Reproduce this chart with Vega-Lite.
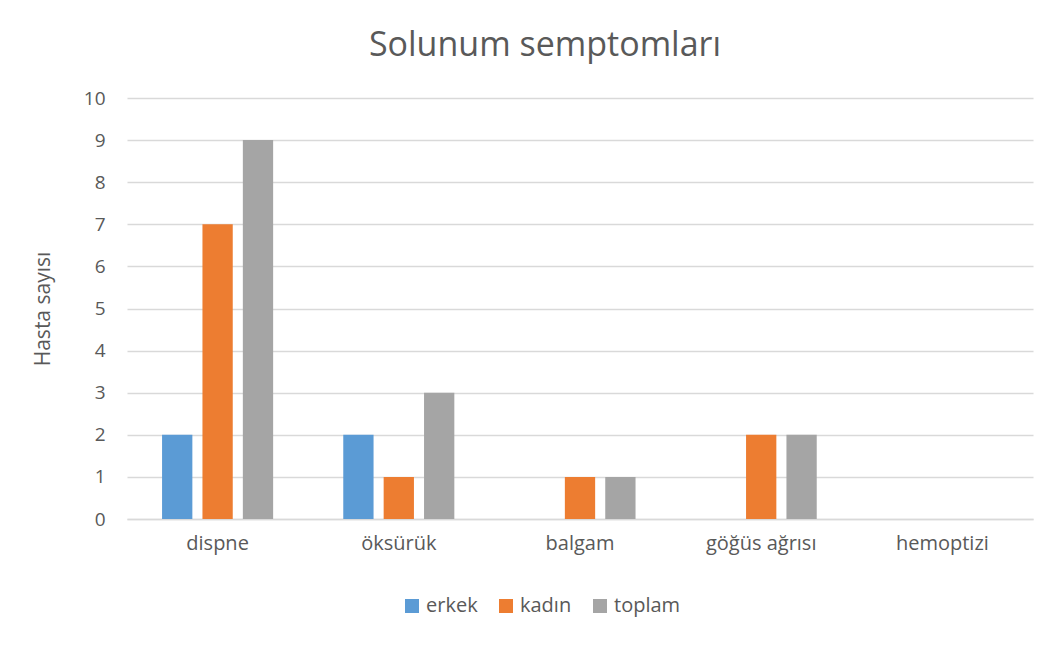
{
  "$schema": "https://vega.github.io/schema/vega-lite/v6.json",
  "autosize": "none",
  "width": 906,
  "height": 421,
  "padding": {"left": 127, "top": 98, "right": 24, "bottom": 127},
  "background": "white",
  "title": {
    "text": "Solunum semptomları",
    "font": "Open Sans",
    "fontSize": 34,
    "fontWeight": "normal",
    "color": "#595959",
    "anchor": "middle",
    "dx": -35,
    "offset": 26
  },
  "data": {
    "values": [
      {"kategori": "dispne", "seri": "erkek", "deger": 2},
      {"kategori": "dispne", "seri": "kadın", "deger": 7},
      {"kategori": "dispne", "seri": "toplam", "deger": 9},
      {"kategori": "öksürük", "seri": "erkek", "deger": 2},
      {"kategori": "öksürük", "seri": "kadın", "deger": 1},
      {"kategori": "öksürük", "seri": "toplam", "deger": 3},
      {"kategori": "balgam", "seri": "erkek", "deger": 0},
      {"kategori": "balgam", "seri": "kadın", "deger": 1},
      {"kategori": "balgam", "seri": "toplam", "deger": 1},
      {"kategori": "göğüs ağrısı", "seri": "erkek", "deger": 0},
      {"kategori": "göğüs ağrısı", "seri": "kadın", "deger": 2},
      {"kategori": "göğüs ağrısı", "seri": "toplam", "deger": 2},
      {"kategori": "hemoptizi", "seri": "erkek", "deger": 0},
      {"kategori": "hemoptizi", "seri": "kadın", "deger": 0},
      {"kategori": "hemoptizi", "seri": "toplam", "deger": 0}
    ]
  },
  "mark": {"type": "bar"},
  "encoding": {
    "x": {
      "field": "kategori",
      "type": "nominal",
      "sort": ["dispne", "öksürük", "balgam", "göğüs ağrısı", "hemoptizi"],
      "scale": {"paddingInner": 0.387, "paddingOuter": 0.1935},
      "axis": {
        "title": null,
        "labelAngle": 0,
        "labelFont": "Open Sans",
        "labelFontSize": 20,
        "labelColor": "#595959",
        "labelPadding": 14,
        "ticks": false,
        "domain": true,
        "domainColor": "#d9d9d9",
        "domainWidth": 1.5
      }
    },
    "xOffset": {
      "field": "seri",
      "type": "nominal",
      "sort": ["erkek", "kadın", "toplam"],
      "scale": {"paddingInner": 0.25, "paddingOuter": 0}
    },
    "y": {
      "field": "deger",
      "type": "quantitative",
      "scale": {"domain": [0, 10], "nice": false},
      "axis": {
        "title": "Hasta sayısı",
        "titleFont": "Open Sans",
        "titleFontSize": 21,
        "titleFontWeight": "normal",
        "titleColor": "#595959",
        "titlePadding": 30,
        "values": [0, 1, 2, 3, 4, 5, 6, 7, 8, 9, 10],
        "labelFont": "Open Sans",
        "labelFontSize": 19,
        "labelColor": "#595959",
        "labelPadding": 22,
        "ticks": false,
        "domain": false,
        "grid": true,
        "gridColor": "#d9d9d9",
        "gridWidth": 1.5
      }
    },
    "color": {
      "field": "seri",
      "type": "nominal",
      "sort": ["erkek", "kadın", "toplam"],
      "scale": {"domain": ["erkek", "kadın", "toplam"], "range": ["#5B9BD5", "#ED7D31", "#A5A5A5"]},
      "legend": {
        "title": null,
        "orient": "none",
        "direction": "horizontal",
        "legendX": 275,
        "legendY": 498,
        "symbolType": "square",
        "symbolSize": 196,
        "symbolStrokeWidth": 0,
        "labelFont": "Open Sans",
        "labelFontSize": 20,
        "labelColor": "#595959",
        "columnPadding": 18,
        "labelOffset": 4
      }
    }
  },
  "config": {
    "view": {"stroke": null}
  }
}
